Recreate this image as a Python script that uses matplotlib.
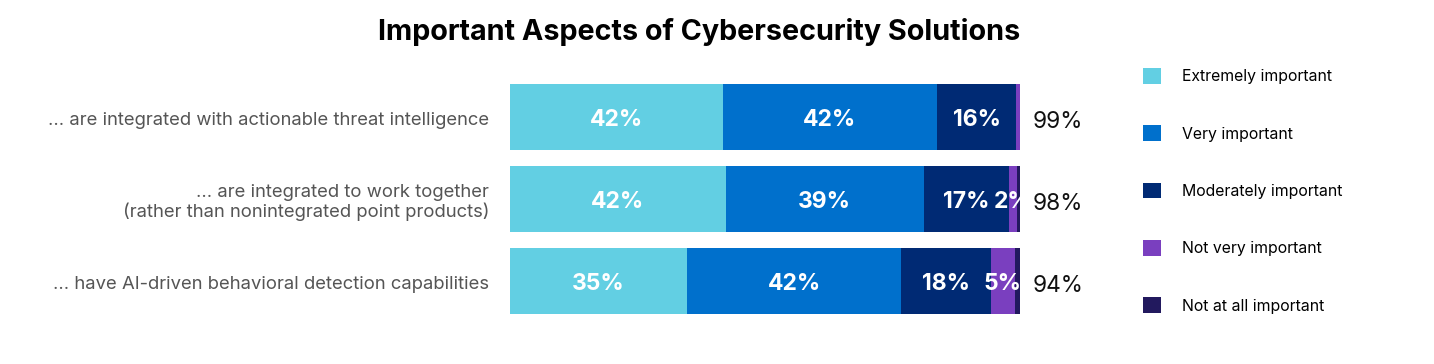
import matplotlib
matplotlib.use("Agg")
import matplotlib.pyplot as plt
from matplotlib.patches import Patch

plt.rcParams['font.family'] = ['Inter', 'DejaVu Sans']

categories = [
    "... are integrated with actionable threat intelligence",
    "... are integrated to work together\n(rather than nonintegrated point products)",
    "... have AI-driven behavioral detection capabilities",
]
series_names = ["Extremely important", "Very important", "Moderately important",
                "Not very important", "Not at all important"]
extremely = [41.7, 42.3, 34.7]
very = [42.0, 38.8, 42.0]
moderately = [15.6, 16.7, 17.6]
not_very = [0.8, 1.6, 4.7]
not_at_all = [0.0, 0.6, 1.4]
important_total = ["99%", "98%", "94%"]
colors = ["#62CFE3", "#0070CC", "#002A74", "#7A3FBF", "#22195E"]

series = [extremely, very, moderately, not_very, not_at_all]

W, H = 1434, 364
fig = plt.figure(figsize=(W / 100, H / 100), dpi=100)
ax = fig.add_axes([510 / W, (H - 314) / H, 510 / W, 230 / H])

ypos = list(range(len(categories)))
left = [0.0] * len(categories)
for name, vals, col in zip(series_names, series, colors):
    ax.barh(ypos, vals, left=left, height=0.8, color=col, label=name)
    for i, v in enumerate(vals):
        if round(v) >= 2:
            ax.text(left[i] + v / 2, i + 0.035, f"{round(v)}%", ha="center", va="center",
                    color="white", fontsize=16.5, fontweight="bold")
    left = [l + v for l, v in zip(left, vals)]

for i, t in enumerate(important_total):
    ax.text(102.5, i + 0.06, t, ha="left", va="center", fontsize=16.3, color="#111111",
            fontweight="normal", clip_on=False)

ax.set_xlim(0, 100)
ax.set_ylim(2.4, -0.4)
ax.set_yticks([])
for i, c in enumerate(categories):
    ax.text(-4.1, i + 0.045, c, ha="right", va="center", fontsize=13.3,
            color="#555555", linespacing=1.1, multialignment="right", clip_on=False)
ax.set_xticks([])
for s in ax.spines.values():
    s.set_visible(False)

handles = [Patch(facecolor=c, edgecolor="none") for c in colors]
fig.legend(handles, series_names, loc="upper left",
           bbox_to_anchor=(1143 / W, 1 - 68 / H), frameon=False,
           fontsize=11.4, handlelength=1.14, handleheight=1.14,
           handletextpad=1.35, labelspacing=2.6, borderpad=0, borderaxespad=0)

fig.text(699 / W, 1 - 32 / H, "Important Aspects of Cybersecurity Solutions",
         ha="center", va="center", fontsize=20.7, fontweight="bold", color="black")

fig.savefig("out.png", dpi=100)
